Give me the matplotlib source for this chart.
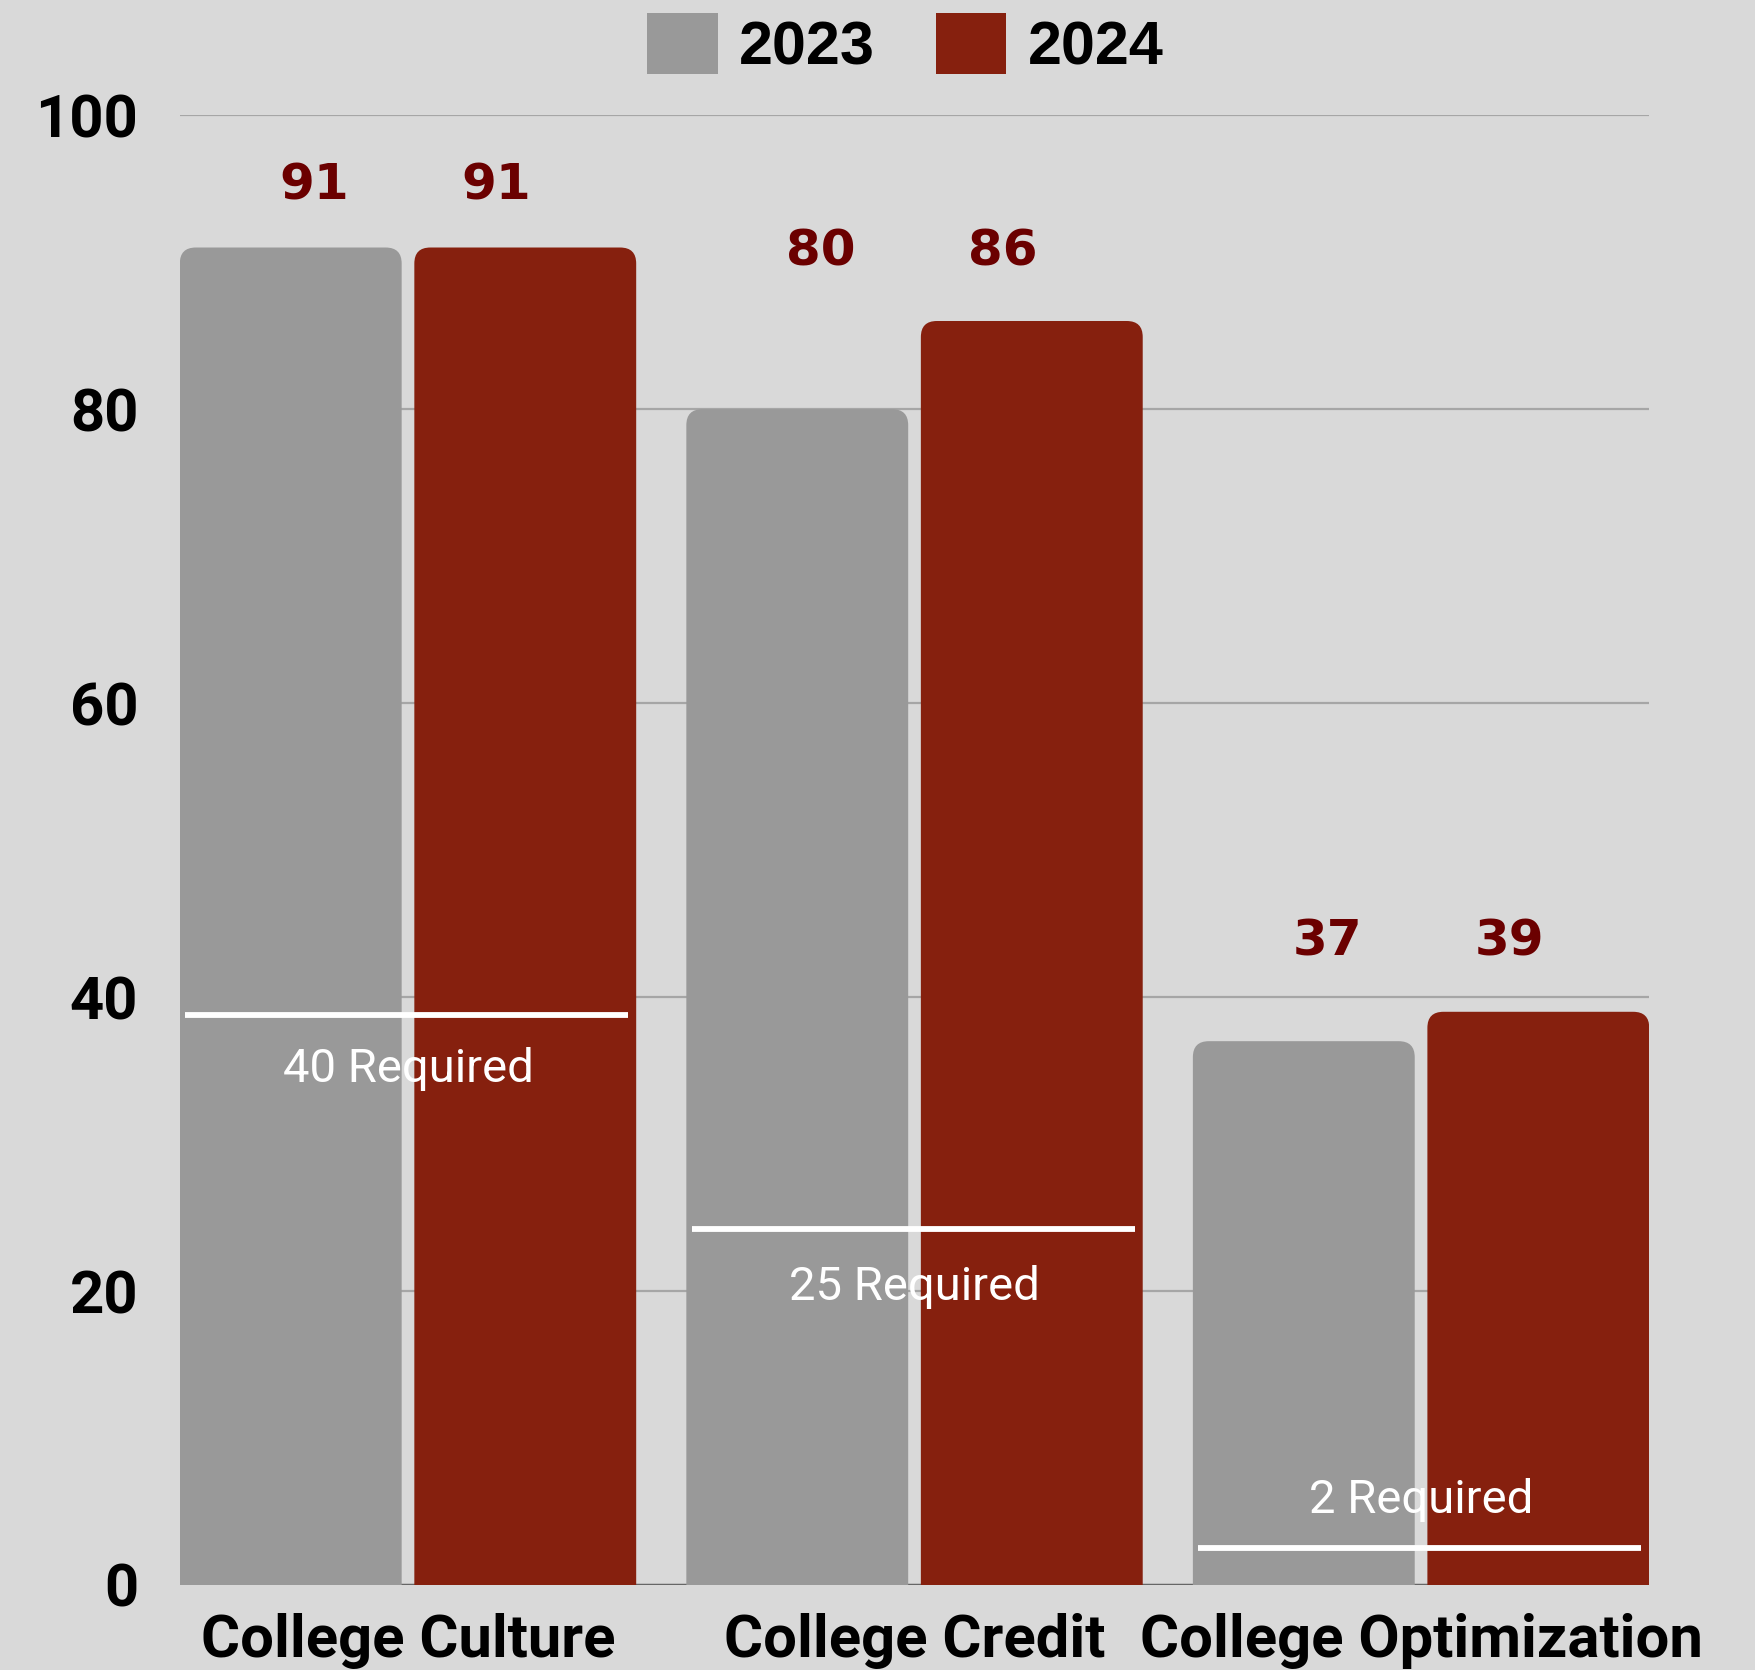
import matplotlib
matplotlib.use("Agg")
import matplotlib.pyplot as plt
import numpy as np
from matplotlib.patches import FancyBboxPatch, Patch

categories = ["College Culture", "College Credit", "College Optimization"]
series_names = ["2023", "2024"]
values_2023 = [91, 80, 37]
values_2024 = [91, 86, 39]
required_labels = ["40 Required", "25 Required", "2 Required"]
required_line_values = [38.8, 24.2, 2.5]
yticks = [0, 20, 40, 60, 80, 100]

BG = "#d9d9d9"
GRAY = "#999999"
RED = "#86200e"
LABEL_RED = "#6b0000"
BOLDFAM = ["Roboto", "DejaVu Sans"]

fig = plt.figure(figsize=(17.55, 16.70), dpi=100, facecolor=BG)
ax = fig.add_axes([0.1026, 0.0509, 0.8370, 0.8801])
ax.set_facecolor(BG)

x = np.arange(len(categories))
w = 0.438
off = 0.2315
b1 = ax.bar(x - off, values_2023, w, color=GRAY, zorder=2)
b2 = ax.bar(x + off, values_2024, w, color=RED, zorder=2)

ax.set_xlim(-0.45, 2.45)
ax.set_ylim(0, 100)

# replace with rounded-top bars
fig.canvas.draw()
p0 = ax.transData.transform((0, 0))
p1 = ax.transData.transform((1, 1))
px_per_x = p1[0] - p0[0]
px_per_y = p1[1] - p0[1]
r_px = 16
for cont, col in ((b1, GRAY), (b2, RED)):
    for p in cont:
        p.set_visible(False)
        xx, ww, hh = p.get_x(), p.get_width(), p.get_height()
        fb = FancyBboxPatch((xx, -3), ww, hh + 3,
                            boxstyle=f"round,pad=0,rounding_size={r_px/px_per_x}",
                            mutation_aspect=px_per_x / px_per_y,
                            facecolor=col, edgecolor="none", zorder=2)
        ax.add_patch(fb)

# grid
for t in yticks[1:]:
    ax.axhline(t, color="#a6a6a6", lw=1.6, zorder=1)
ax.axhline(0, color="#666666", lw=2.5, zorder=1)

for s in ax.spines.values():
    s.set_visible(False)

ax.set_yticks(yticks)
ax.set_yticklabels([str(t) for t in yticks], fontsize=43, fontweight="bold",
                   family=BOLDFAM)
ax.tick_params(axis="y", length=0, pad=30)
ax.set_xticks(x)
ax.set_xticklabels(categories, fontsize=43, fontweight="bold", family=BOLDFAM)
ax.tick_params(axis="x", length=0, pad=20)

# value labels
label_gap = [4.2, 4.7, 4.8]
for i in range(len(categories)):
    top = max(values_2023[i], values_2024[i]) + label_gap[i]
    ax.text(x[i] - 0.185, top, str(values_2023[i]), ha="center", va="center",
            fontsize=36, fontweight="bold", color=LABEL_RED,
            family=["DejaVu Sans"])
    ax.text(x[i] + 0.175, top, str(values_2024[i]), ha="center", va="center",
            fontsize=36, fontweight="bold", color=LABEL_RED,
            family=["DejaVu Sans"])

# required lines
for i in range(len(categories)):
    ax.plot([x[i] - 0.44, x[i] + 0.435], [required_line_values[i]] * 2,
            color="white", lw=4.2, zorder=3, solid_capstyle="butt")
text_y = [35.1, 20.3, 5.8]
for i in range(len(categories)):
    ax.text(x[i], text_y[i], required_labels[i], ha="center", va="center",
            fontsize=34, color="white", zorder=4,
            family=["Roboto", "DejaVu Sans"])

handles = [Patch(facecolor=GRAY, edgecolor="none"), Patch(facecolor=RED, edgecolor="none")]
leg = fig.legend(handles, series_names, loc="center", bbox_to_anchor=(0.516, 0.973),
                 ncol=2, frameon=False, handlelength=1.15, handleheight=1.15,
                 handletextpad=0.35, columnspacing=1.0,
                 prop={"size": 44, "weight": "bold", "family": ["Liberation Sans", "DejaVu Sans"]})

fig.savefig("out.png", dpi=100, facecolor=BG)
